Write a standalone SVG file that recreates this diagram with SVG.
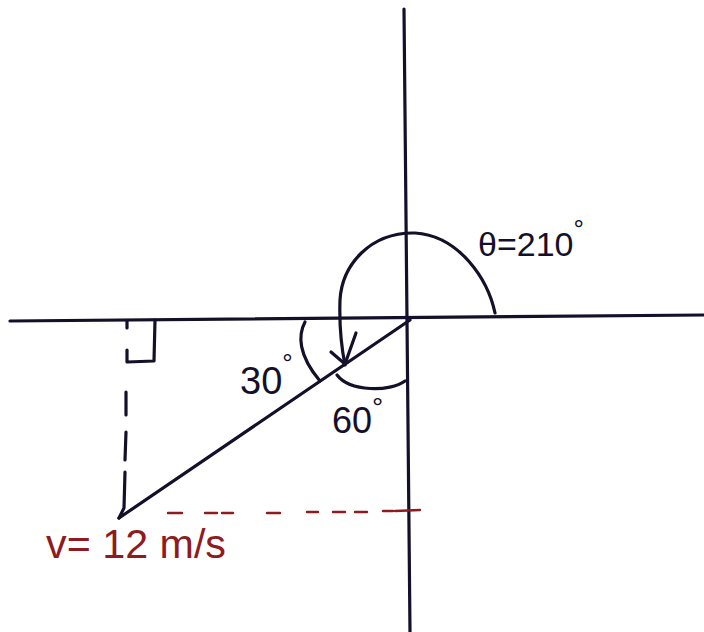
<svg xmlns="http://www.w3.org/2000/svg" width="704" height="632" viewBox="0 0 704 632">
<style>
.ink{fill:none;stroke:#15102a;stroke-width:3.2;stroke-linecap:round;stroke-linejoin:round}
.red{fill:none;stroke:#8e1b1f;stroke-width:2.4;stroke-linecap:round}
.lbl{font-family:"Liberation Sans",Arial,sans-serif;fill:#15102a}
.rlbl{font-family:"Liberation Sans",Arial,sans-serif;fill:#8e1b1f}
</style>
<rect width="704" height="632" fill="#ffffff"/>
<g id="axes">
<path class="ink" d="M404,9 L410,632"/>
<path class="ink" d="M10,321 L704,315"/>
</g>
<g id="connectors">
<path id="vector" class="ink" d="M410,320 L119,518"/>
<path id="dashed-vertical" class="ink" d="M127,321 L127,328 M126,392 L126,415 M126,432 L125,460 M125,472 L124,508 L119,518"/>
<path id="right-angle" class="ink" d="M127,350 L127,362 L154,361 L155,320"/>
<path id="red-dashed" class="red" d="M168,513 L182,513 M205,513 L217,513 M222,513 L233,513 M267,513 L280,513 M307,512 L318,512 M333,512 L345,512 M355,512 L367,512 M383,511 L393,511 M395,511 L420,510"/>
<path id="theta-arc" class="ink" d="M495,313 C488,280 460,236 415,233 C370,232 342,265 340,300 C339,330 342,350 345,365"/>
<path id="theta-arrow" class="ink" d="M331,352 L345,364 L356,333"/>
<path id="arc-30" class="ink" d="M305,322 C298,335 298,355 320,381"/>
<path id="arc-60" class="ink" d="M337,375 C350,392 390,392 405,381"/>
</g>
<g id="label-theta">
<text class="lbl" x="478" y="256" font-size="34">θ=210<tspan font-size="26" dy="-18">°</tspan></text>
</g>
<g id="label-30">
<text class="lbl" x="240" y="394" font-size="38">30<tspan font-size="26" dy="-22">°</tspan></text>
</g>
<g id="label-60">
<text class="lbl" x="332" y="433" font-size="36">60<tspan font-size="28" dy="-16">°</tspan></text>
</g>
<g id="label-v">
<text class="rlbl" x="46" y="558" font-size="40" textLength="180" lengthAdjust="spacingAndGlyphs">v= 12 m/s</text>
</g>
</svg>
